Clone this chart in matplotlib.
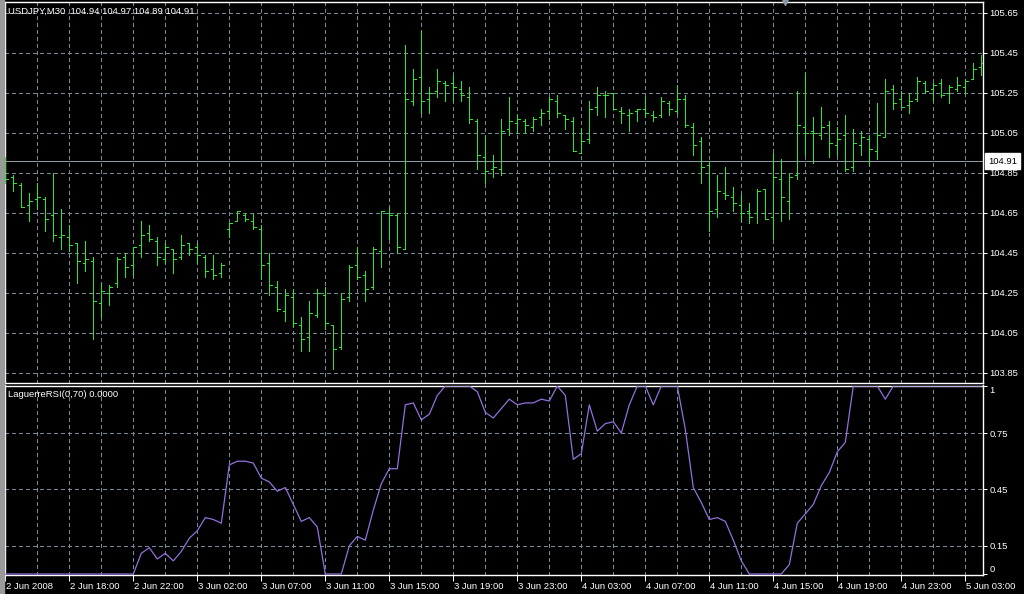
import matplotlib
matplotlib.use("Agg")
import matplotlib.pyplot as plt
import matplotlib.transforms as mtransforms
import numpy as np

# USDJPY M30 bars (one per 30 min)
opens = [104.90, 104.83, 104.79, 104.69, 104.72, 104.72, 104.64, 104.53, 104.53, 104.50,
         104.40, 104.41, 104.20, 104.25, 104.30, 104.43, 104.39, 104.49, 104.55, 104.51,
         104.42, 104.47, 104.43, 104.50, 104.48, 104.43, 104.37, 104.35, 104.57, 104.61,
         104.64, 104.61, 104.57, 104.40, 104.28, 104.16, 104.23, 104.09, 104.03, 104.14,
         104.24, 104.09, 103.98, 104.23, 104.39, 104.34, 104.28, 104.46, 104.65, 104.64,
         104.47, 105.21, 105.33, 105.22, 105.26, 105.30, 105.30, 105.27, 105.23, 105.11,
         104.93, 104.87, 104.87, 105.07, 105.10, 105.11, 105.08, 105.13, 105.16, 105.21,
         105.14, 105.11, 104.95, 105.02, 105.18, 105.24, 105.25, 105.16, 105.14, 105.16,
         105.17, 105.14, 105.14, 105.20, 105.16, 105.22, 105.08, 105.01, 104.89, 104.67,
         104.75, 104.73, 104.69, 104.66, 104.65, 104.77, 104.63, 104.82, 104.71, 104.84,
         105.08, 105.06, 105.04, 105.09, 104.99, 105.04, 104.88, 104.99, 105.02, 104.96,
         105.03, 105.27, 105.22, 105.19, 105.22, 105.30, 105.27, 105.30, 105.25, 105.27,
         105.28, 105.32, 105.38]
highs = [104.93, 104.84, 104.80, 104.75, 104.80, 104.73, 104.85, 104.67, 104.59, 104.50,
         104.51, 104.43, 104.30, 104.29, 104.43, 104.45, 104.48, 104.61, 104.59, 104.53,
         104.50, 104.47, 104.54, 104.50, 104.50, 104.44, 104.44, 104.40, 104.60, 104.66,
         104.65, 104.65, 104.59, 104.45, 104.31, 104.27, 104.27, 104.13, 104.21, 104.27,
         104.28, 104.09, 104.25, 104.39, 104.48, 104.36, 104.48, 104.66, 104.68, 104.65,
         105.49, 105.37, 105.56, 105.28, 105.37, 105.31, 105.34, 105.31, 105.28, 105.12,
         105.04, 104.94, 105.12, 105.23, 105.14, 105.12, 105.13, 105.17, 105.23, 105.24,
         105.14, 105.13, 105.07, 105.21, 105.28, 105.26, 105.25, 105.18, 105.17, 105.17,
         105.23, 105.16, 105.23, 105.21, 105.29, 105.24, 105.10, 105.03, 104.91, 104.84,
         104.88, 104.78, 104.74, 104.70, 104.77, 104.77, 104.95, 104.92, 104.85, 105.26,
         105.35, 105.13, 105.18, 105.11, 105.08, 105.14, 105.07, 105.06, 105.04, 105.20,
         105.32, 105.29, 105.26, 105.25, 105.33, 105.31, 105.30, 105.32, 105.29, 105.33,
         105.32, 105.40, 105.44]
lows = [104.80, 104.76, 104.68, 104.61, 104.67, 104.56, 104.51, 104.47, 104.46, 104.30,
        104.36, 104.02, 104.13, 104.19, 104.28, 104.33, 104.34, 104.43, 104.51, 104.39,
        104.40, 104.35, 104.42, 104.44, 104.40, 104.33, 104.32, 104.33, 104.53, 104.61,
        104.61, 104.57, 104.32, 104.24, 104.16, 104.11, 104.08, 103.96, 103.96, 104.13,
        104.07, 103.87, 103.97, 104.21, 104.32, 104.21, 104.27, 104.38, 104.52, 104.45,
        104.47, 105.19, 105.15, 105.15, 105.23, 105.21, 105.21, 105.21, 105.10, 104.87,
        104.80, 104.83, 104.84, 105.04, 105.05, 105.05, 105.06, 105.09, 105.12, 105.13,
        105.07, 104.96, 104.95, 105.00, 105.14, 105.13, 105.17, 105.10, 105.06, 105.11,
        105.13, 105.11, 105.13, 105.14, 105.15, 105.08, 104.94, 104.80, 104.56, 104.63,
        104.72, 104.66, 104.61, 104.60, 104.60, 104.62, 104.52, 104.61, 104.62, 104.82,
        104.94, 104.90, 105.02, 104.93, 104.94, 104.86, 104.86, 104.94, 104.89, 104.92,
        105.03, 105.17, 105.18, 105.15, 105.21, 105.25, 105.21, 105.23, 105.20, 105.26,
        105.25, 105.32, 105.34]
closes = [104.82, 104.80, 104.68, 104.71, 104.73, 104.62, 104.54, 104.54, 104.49, 104.41,
          104.42, 104.21, 104.26, 104.28, 104.42, 104.38, 104.48, 104.54, 104.52, 104.43,
          104.48, 104.42, 104.49, 104.47, 104.44, 104.36, 104.34, 104.39, 104.60, 104.66,
          104.62, 104.58, 104.39, 104.29, 104.17, 104.24, 104.10, 104.02, 104.15, 104.25,
          104.10, 103.97, 104.22, 104.38, 104.33, 104.27, 104.47, 104.66, 104.64, 104.48,
          105.22, 105.32, 105.21, 105.25, 105.31, 105.29, 105.28, 105.24, 105.12, 104.94,
          104.86, 104.88, 105.06, 105.11, 105.12, 105.09, 105.12, 105.15, 105.22, 105.15,
          105.12, 104.96, 105.01, 105.17, 105.24, 105.24, 105.17, 105.15, 105.15, 105.17,
          105.15, 105.13, 105.21, 105.17, 105.22, 105.09, 104.99, 104.88, 104.66, 104.76,
          104.74, 104.70, 104.65, 104.63, 104.76, 104.62, 104.83, 104.73, 104.83, 105.09,
          105.05, 105.05, 105.08, 105.00, 105.02, 104.87, 105.00, 105.03, 104.97, 105.04,
          105.26, 105.20, 105.18, 105.21, 105.31, 105.26, 105.29, 105.24, 105.28, 105.29,
          105.31, 105.37, 105.40]

# LaguerreRSI(0.70) values per bar
lrsi = [0, 0, 0, 0, 0, 0, 0, 0, 0, 0,
        0, 0, 0, 0, 0, 0, 0, 0.11, 0.14, 0.08,
        0.11, 0.07, 0.12, 0.19, 0.23, 0.30, 0.29, 0.27, 0.58, 0.60,
        0.60, 0.59, 0.51, 0.49, 0.44, 0.46, 0.37, 0.28, 0.30, 0.25,
        0, 0, 0, 0.15, 0.20, 0.18, 0.34, 0.48, 0.56, 0.56,
        0.90, 0.91, 0.82, 0.85, 0.95, 1, 1, 1, 1, 0.97,
        0.86, 0.83, 0.88, 0.93, 0.90, 0.91, 0.91, 0.93, 0.92, 1,
        0.95, 0.61, 0.64, 0.90, 0.76, 0.80, 0.81, 0.75, 0.90, 1,
        1, 0.90, 1, 1, 1, 0.77, 0.46, 0.38, 0.29, 0.30,
        0.28, 0.18, 0.07, 0, 0, 0, 0, 0, 0.05, 0.27,
        0.32, 0.37, 0.47, 0.54, 0.65, 0.70, 1, 1, 1, 1,
        0.93, 1, 1, 1, 1, 1, 1, 1, 1, 1,
        1, 1, 1]

time_labels = ["2 Jun 2008", "2 Jun 18:00", "2 Jun 22:00", "3 Jun 02:00", "3 Jun 07:00",
               "3 Jun 11:00", "3 Jun 15:00", "3 Jun 19:00", "3 Jun 23:00", "4 Jun 03:00",
               "4 Jun 07:00", "4 Jun 11:00", "4 Jun 15:00", "4 Jun 19:00", "4 Jun 23:00",
               "5 Jun 03:00"]
price_ticks = [103.85, 104.05, 104.25, 104.45, 104.65, 104.85, 105.05, 105.25, 105.45, 105.65]
rsi_ticks = [0, 0.15, 0.45, 0.75, 1]
bid = 104.91
header = "USDJPY,M30  104.94 104.97 104.89 104.91"
ind_name = "LaguerreRSI(0,70) 0.0000"

BG = "black"
GRID = "#778899"
BAR = "#2ee62e"
LINE = "#9370db"
FONT = ["Liberation Sans", "DejaVu Sans"]
FS = 6.8
LW = 0.55  # about one pixel, drawn without anti-aliasing

plt.rcParams["font.family"] = FONT

fig = plt.figure(figsize=(10.24, 5.94), dpi=100, facecolor=BG)
W, H = 1024, 594
ax = fig.add_axes([4.5 / W, (H - 383) / H, 978 / W, 381 / H], facecolor=BG)
ax2 = fig.add_axes([4.5 / W, (H - 575) / H, 978 / W, 189.5 / H], facecolor=BG)
# grey window frame on the far left
fig.patches.append(plt.Rectangle((0, 0), 3.5 / W, 1, transform=fig.transFigure,
                                 color="#9a9a9a", zorder=0))

n = len(closes)
x = np.arange(n)
grid_x = np.arange(4, n, 4)
dash = (0, (5, 4))

for a in (ax, ax2):
    for s in a.spines.values():
        s.set_color("white")
        s.set_linewidth(1.0)
    for gx in grid_x:
        a.axvline(gx, color=GRID, lw=LW, ls=dash, zorder=1, antialiased=False)
    a.set_xlim(-0.1, 122.15)
    a.yaxis.tick_right()
    a.tick_params(axis="y", colors="white", length=3, width=0.75, pad=2, labelsize=FS)

# OHLC bars
ax.vlines(x, lows, highs, color=BAR, lw=LW, zorder=3, antialiased=False)
ax.hlines(opens, x - 0.3, x, color=BAR, lw=LW, zorder=3, antialiased=False)
ax.hlines(closes, x, x + 0.3, color=BAR, lw=LW, zorder=3, antialiased=False)
ax.axhline(bid, color="#8c98a6", lw=LW, zorder=2, antialiased=False)
for p in price_ticks:
    ax.axhline(p, color=GRID, lw=LW, ls=dash, zorder=1, antialiased=False)
ax.set_ylim(103.80, 105.705)
ax.set_yticks(price_ticks)
ax.set_yticklabels([f"{p:.2f}" for p in price_ticks])
ax.set_xticks([])
ax.text(1.0055, bid, f"{bid:.2f}", transform=mtransforms.blended_transform_factory(ax.transAxes, ax.transData),
        ha="left", va="center", fontsize=FS, color="black", clip_on=False, zorder=5,
        bbox=dict(boxstyle="square,pad=0.35", fc="white", ec="white"))
ax.text(0.0036, 0.976, header, transform=ax.transAxes, ha="left", va="center",
        fontsize=FS, color="white")
ax.plot([97.5], [1.0], marker="v", ms=5, color="#8c98a6", transform=mtransforms.blended_transform_factory(ax.transData, ax.transAxes),
        clip_on=False, zorder=6, ls="none")

# indicator panel
ax2.plot(x, lrsi, color=LINE, lw=0.9, zorder=3)
for v in rsi_ticks[1:-1]:
    ax2.axhline(v, color=GRID, lw=LW, ls=dash, zorder=1, antialiased=False)
ax2.set_ylim(-0.0053, 1.0027)
ax2.set_yticks(rsi_ticks)
ax2.set_yticklabels([f"{v:g}" for v in rsi_ticks])
labels2 = ax2.get_yticklabels()
labels2[0].set_va("bottom")
labels2[-1].set_va("top")
ax2.text(0.0036, 0.95, ind_name, transform=ax2.transAxes, ha="left", va="center",
         fontsize=FS, color="white")

ax2.set_xticks(np.arange(0, n, 8)[:len(time_labels)])
ax2.set_xticklabels(time_labels)
ax2.tick_params(axis="x", colors="white", length=4, width=0.75, pad=1, labelsize=FS)
shift = mtransforms.ScaledTranslation(1 / 100, 0, fig.dpi_scale_trans)
for lab in ax2.get_xticklabels():
    lab.set_ha("left")
    lab.set_transform(lab.get_transform() + shift)

fig.savefig("out.png", dpi=100, facecolor=BG)
